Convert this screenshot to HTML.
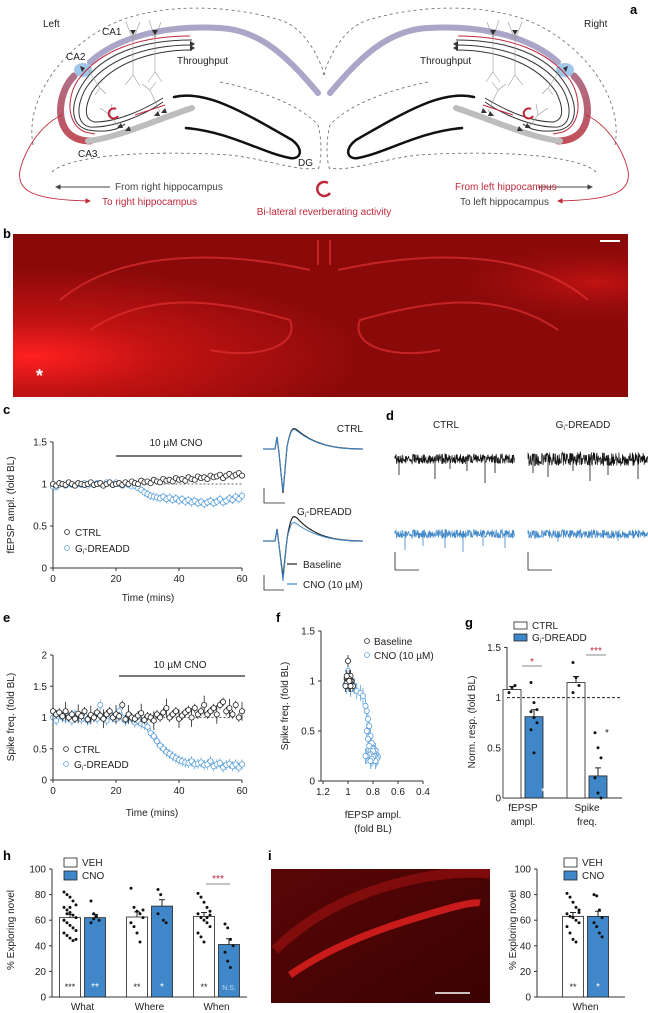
<!DOCTYPE html>
<html><head><meta charset="utf-8"><style>
html,body{margin:0;padding:0;background:#fff}
svg{display:block;font-family:"Liberation Sans",sans-serif}
</style></head><body>
<svg id="fig" width="648" height="1013" viewBox="0 0 648 1013" xmlns="http://www.w3.org/2000/svg">
<defs>
<linearGradient id="ca3g" x1="0" y1="0" x2="0" y2="1"><stop offset="0" stop-color="#b07088"/><stop offset="1" stop-color="#c0505a"/></linearGradient>
<radialGradient id="brain" cx="0.03" cy="0.75" r="0.55"><stop offset="0" stop-color="#ff2020"/><stop offset="0.4" stop-color="#c01212"/><stop offset="1" stop-color="#8a0a0a"/></radialGradient>
<radialGradient id="brainR" cx="0.95" cy="0.3" r="0.25"><stop offset="0" stop-color="#d01515" stop-opacity="0.8"/><stop offset="1" stop-color="#a00c0c" stop-opacity="0"/></radialGradient>
<linearGradient id="ig" x1="0" y1="0" x2="1" y2="1"><stop offset="0" stop-color="#5a0606"/><stop offset="1" stop-color="#3a0202"/></linearGradient>
<clipPath id="iclip"><rect x="271" y="869" width="219" height="134"/></clipPath>
<marker id="arG" markerWidth="6" markerHeight="6" refX="5" refY="3" orient="auto"><path d="M0,0 L6,3 L0,6z" fill="#444"/></marker>
<marker id="arR" markerWidth="6" markerHeight="6" refX="5" refY="3" orient="auto"><path d="M0,0 L6,3 L0,6z" fill="#c0283a"/></marker>
</defs>

<!-- Panel a -->
<g>
<text x="630" y="14" font-size="13" font-weight="bold">a</text>
<g id="hipL">
<path d="M33,145 C25,100 60,50 110,25 C150,5 220,2 280,20 C305,28 318,55 326,78" fill="none" stroke="#666" stroke-dasharray="3,3" stroke-width="0.8"/>
<path d="M220,82 C260,90 300,105 318,125 C322,140 322,160 318,170" fill="none" stroke="#666" stroke-dasharray="3,3" stroke-width="0.8"/>
<path d="M52,172 C70,155 150,150 230,155 C270,160 300,172 318,168" fill="none" stroke="#666" stroke-dasharray="3,3" stroke-width="0.8"/>
<path d="M90,62 C120,35 170,25 220,28 C262,30 290,60 318,93" fill="none" stroke="#a9a6c8" stroke-width="6" stroke-linecap="round"/>
<path d="M74,76 C58,92 55,125 72,136 C78,140 84,141 90,141" fill="none" stroke="url(#ca3g)" stroke-width="7" stroke-linecap="round"/>
<ellipse cx="83" cy="70" rx="9" ry="7" fill="#9fc6e8"/>
<path d="M88,141 C120,137 150,122 192,108" fill="none" stroke="#bdbdbd" stroke-width="6" stroke-linecap="round"/>
<path d="M174,97 C205,90 240,110 292,140 C305,150 300,160 290,158 C260,152 230,132 186,128" fill="none" stroke="#111" stroke-width="2.5" stroke-linecap="round"/>
<path d="M192,40 C140,40 100,55 82,85 C70,105 70,125 88,130 C105,133 118,130 125,124" fill="none" stroke="#333" stroke-width="1"/>
<path d="M192,45 C145,45 105,60 86,88 C76,106 76,124 90,127 C110,128 140,118 163,102" fill="none" stroke="#333" stroke-width="1"/>
<path d="M192,50 C148,50 110,65 92,92 C84,108 84,120 95,122 C115,122 140,112 163,98" fill="none" stroke="#333" stroke-width="1"/>
<path d="M190,36 C140,36 100,50 78,80 C65,100 68,125 85,132 L95,134" fill="none" stroke="#c0283a" stroke-width="1"/>
<path d="M135,115 L165,105" stroke="#c0283a" stroke-width="1"/>
<path d="M62,115 C40,125 25,150 20,170 C17,190 30,200 90,201" fill="none" stroke="#c0283a" stroke-width="0.9" marker-end="url(#arR)"/>
<line x1="110" y1="187" x2="56" y2="187" stroke="#444" stroke-width="0.9" marker-end="url(#arG)"/>
<g stroke="#999" stroke-width="0.6" fill="none">
<path d="M133,30 L133,75 M133,75 L125,85 M133,75 L140,86 M133,40 L126,22 M133,40 L140,22"/>
<path d="M155,30 L155,72 M155,72 L148,82 M155,72 L162,82 M155,38 L149,20 M155,38 L161,22"/>
<path d="M88,70 L100,88 M100,88 L95,95 M100,88 L106,94"/>
<path d="M120,128 L110,115 M110,115 L100,108 M110,115 L112,104"/>
<path d="M160,112 L150,90 M150,90 L142,84 M150,90 L156,82"/>
</g>
<g fill="#333"><path d="M130,30 l3,5 l3,-5z"/><path d="M152,30 l3,5 l3,-5z"/><path d="M80,66 l5,2 l-3,4z"/><path d="M117,128 l4,-5 l2,5z"/><path d="M125,131 l4,-5 l2,5z"/><path d="M154,116 l4,-5 l2,5z"/><path d="M161,113 l4,-5 l2,5z"/></g>
<path d="M195,44 l-5,-3 v6z M195,48 l-5,-3 v6z" fill="#333"/>
</g>
<use href="#hipL" transform="translate(648,0) scale(-1,1)"/>
<path d="M328,183 A7,7 0 1 0 330,193" fill="none" stroke="#c0283a" stroke-width="2.5"/>
<path d="M116,109 A5,5 0 1 0 118,116" fill="none" stroke="#c0283a" stroke-width="2"/>
<path d="M531,109 A5,5 0 1 0 533,116" fill="none" stroke="#c0283a" stroke-width="2"/>
<g font-size="10" fill="#222">
<text x="43" y="27">Left</text>
<text x="584" y="27">Right</text>
<text x="102" y="35">CA1</text>
<text x="66" y="60">CA2</text>
<text x="78" y="157">CA3</text>
<text x="298" y="166">DG</text>
<text x="177" y="64">Throughput</text>
<text x="420" y="64">Throughput</text>
<text x="115" y="190" fill="#444">From right hippocampus</text>
<text x="102" y="205" fill="#c0283a">To right hippocampus</text>
<text x="324" y="215" fill="#c0283a" text-anchor="middle">Bi-lateral reverberating activity</text>
<text x="455" y="190" fill="#c0283a">From left hippocampus</text>
<text x="460" y="205" fill="#444">To left hippocampus</text>
</g>
</g>

<!-- Panel b -->
<g>
<text x="3" y="238" font-size="13" font-weight="bold">b</text>
<rect x="13" y="234" width="615" height="163" fill="url(#brain)"/>
<rect x="13" y="234" width="615" height="163" fill="url(#brainR)"/>
<g fill="none" stroke="#e03030" stroke-width="2" opacity="0.7">
<path d="M60,300 C120,250 220,250 310,270"/><path d="M90,330 C150,290 220,300 290,320 C300,345 260,360 210,350"/>
<path d="M588,300 C530,250 430,250 338,270"/><path d="M558,330 C500,290 430,300 360,320 C350,345 390,360 440,350"/>
<path d="M318,240 L318,265 M330,240 L330,265"/>
</g>
<line x1="600" y1="241" x2="620" y2="241" stroke="#fff" stroke-width="2"/>
<text x="36" y="382" font-size="18" fill="#fff" font-weight="bold">*</text>
</g>

<g id="charts"></g>

<!-- panel i image -->
<g>
<rect x="271" y="869" width="219" height="134" fill="url(#ig)"/>
<g clip-path="url(#iclip)">
<path d="M275,950 C320,905 380,885 430,876 C460,872 480,872 490,874" fill="none" stroke="#a01010" stroke-width="10" opacity="0.6"/>
<path d="M290,975 C340,940 400,922 450,908 C465,904 475,902 480,903" fill="none" stroke="#e02020" stroke-width="7" opacity="0.85"/>
</g>
<line x1="435" y1="993" x2="470" y2="993" stroke="#fff" stroke-width="1.5"/>
</g>
</svg>
<script>
// ---------- data ----------
var minutesC = [];
for (var m = 0; m <= 60; m++) minutesC.push(m);
var ctrlC = [1,0.98,1.01,1,0.99,1.02,1,0.98,1.01,1,0.99,1,1.02,0.99,1,1.01,0.98,1,1.02,0.99,1,1.01,0.99,1.02,1,1.03,1.01,1,1.04,1.02,1.03,1.01,1.05,1.03,1.02,1.06,1.04,1.05,1.03,1.07,1.05,1.06,1.04,1.08,1.06,1.05,1.09,1.07,1.08,1.06,1.1,1.08,1.09,1.11,1.07,1.1,1.12,1.09,1.11,1.13,1.1];
var giC = [0.97,0.96,0.99,1,0.98,1.01,0.99,0.98,1,0.99,1.01,0.98,1,0.99,1.01,1,0.98,1.02,1.01,0.99,1.02,1,0.98,1.01,0.99,0.97,0.98,0.95,0.93,0.9,0.88,0.86,0.85,0.84,0.83,0.85,0.82,0.84,0.81,0.83,0.8,0.82,0.79,0.81,0.78,0.8,0.77,0.79,0.76,0.78,0.8,0.77,0.79,0.82,0.78,0.8,0.83,0.81,0.85,0.82,0.86];
var ctrlE = [1.1,1.05,1.08,1.02,1.1,1.0,1.05,0.98,1.06,1.02,1.1,0.97,1.04,1.0,1.08,1.03,0.98,1.05,1.1,1.0,1.05,1.02,1.2,0.97,1.05,1.0,0.98,1.03,1.07,0.96,1.02,1.0,0.95,1.05,1.0,1.08,1.15,1.0,1.05,1.1,0.98,1.03,1.08,1.12,1.0,1.15,1.05,1.1,1.2,1.05,1.1,1.15,1.05,1.2,1.25,1.1,1.15,1.05,1.2,1.0,1.1];
var giE = [1.0,0.95,1.05,1.0,0.98,1.02,0.95,1.05,1.0,0.97,1.03,0.95,1.0,1.02,0.98,1.2,1.0,0.95,1.05,1.0,0.97,1.1,1.0,0.95,1.05,0.98,0.92,0.95,0.9,0.88,0.85,0.75,0.7,0.62,0.55,0.5,0.45,0.42,0.38,0.35,0.32,0.3,0.28,0.27,0.3,0.25,0.26,0.28,0.24,0.25,0.3,0.22,0.25,0.27,0.2,0.24,0.26,0.22,0.25,0.2,0.25];
var ticksC = [0,0.5,1,1.5];
var ticksE = [0,0.5,1,1.5,2];
var ticksT = [0,20,40,60];
var ticksFx = [1.2,1,0.8,0.6,0.4];
var ticksF = [0,0.5,1,1.5];
var gGroups = ["fEPSP ampl.","Spike freq."];
var gCtrlMean = [1.08,1.15];
var gGiMean = [0.81,0.22];
var gCtrlErr = [0.03,0.06];
var gGiErr = [0.07,0.08];
var gCtrlDots = [[1.05,1.1,1.12],[1.35,1.2,1.12,1.05]];
var gGiDots = [[1.15,0.95,0.88,0.86,0.8,0.75,0.68,0.45],[0.65,0.5,0.4,0.2,0.05,0.0]];
var hCats = ["What","Where","When"];
var hVeh = [62,62.5,63];
var hCno = [62,71,41];
var hVehErr = [2.5,4,3];
var hCnoErr = [2.5,5,4.5];
var hVehDots = [[82,80,78,75,72,70,68,66,64,62,60,58,56,54,52,50,48,46,44,45,60,65,70],[85,70,67,65,62,58,55,50,43,68],[81,78,74,70,67,65,62,60,58,55,50,47,43,62,64]];
var hCnoDots = [[75,65,63,60,58,61],[84,80,60,58,65],[57,54,45,40,35,28,23]];
var hVehStars = ["***","**","**"];
var hCnoStars = ["**","*","N.S."];
var iVeh = [63];
var iCno = [63];
var iVehDots = [81,78,74,70,68,65,63,62,60,58,55,50,45,43,66];
var iCnoDots = [80,79,68,62,58,55,50,47];
var ticksH = [0,20,40,60,80,100];

// ---------- helpers ----------
var NS = "http://www.w3.org/2000/svg";
var root = document.getElementById('charts');
function mk(tag, attrs, parent) {
  var e = document.createElementNS(NS, tag);
  for (var k in attrs) e.setAttribute(k, attrs[k]);
  (parent || root).appendChild(e);
  return e;
}
function txt(x, y, s, attrs, parent) {
  var e = mk('text', Object.assign({x: x, y: y, 'font-size': 10, fill: '#222'}, attrs || {}), parent);
  e.textContent = s;
  return e;
}
var BLUE = '#3f87c8', LBLUE = '#5ea2dc';

function xC(t) { return 53 + t * (242 - 53) / 60; }
function yC(v) { return 568 - v * 84; }
function yE(v) { return 780 - v * 62.5; }
function xF(v) { return 348 + (1 - v) * 125; }
function yF(v) { return 781 - v * 100; }
function yG(v) { return 798 - v * 100.4; }
function yH(v) { return 997 - v * 1.28; }

function yAxis(x, y0, y1, ticks, scale, fmt) {
  var g = mk('g', {});
  
  
  mk('line', {x1: x, y1: y0, x2: x, y2: y1, stroke: '#333', 'stroke-width': 1}, g);
  ticks.forEach(function (t) {
    var y = scale(t);
    mk('line', {x1: x - 3, y1: y, x2: x, y2: y, stroke: '#333'}, g);
    var l = txt(x - 6, y + 3.5, fmt ? fmt(t) : String(t), {'text-anchor': 'end'}, g);
    
    
  });
}
function xAxisT(y, x0, x1, ticks, scale) {
  var g = mk('g', {});
  
  
  mk('line', {x1: x0, y1: y, x2: x1, y2: y, stroke: '#333'}, g);
  ticks.forEach(function (t) {
    var x = scale(t);
    mk('line', {x1: x, y1: y, x2: x, y2: y + 3, stroke: '#333'}, g);
    var l = txt(x, y + 14, String(t), {'text-anchor': 'middle'}, g);
    
    
  });
}
function vtitle(x, y, s) {
  var e = txt(x, y, s, {'text-anchor': 'middle', transform: 'rotate(-90 ' + x + ' ' + y + ')'});
  
  
}
function label(x, y, s) {
  var e = txt(x, y, s, {'font-size': 13, 'font-weight': 'bold', fill: '#000'});
  
  
}
function gi(x, y, anchor) {
  var e = txt(x, y, 'G', {'text-anchor': anchor || 'start'});
  var s = mk('tspan', {'font-size': 6, dy: 2}, e); s.textContent = 'i';
  var s2 = mk('tspan', {dy: -2}, e); s2.textContent = '-DREADD';
  return e;
}
function scatter(xs, ys, xf, yf, color, err, name) {
  var g = mk('g', {});
  
  
  for (var i = 0; i < xs.length; i++) {
    var e = err(i);
    if (e > 0) mk('line', {x1: xf(xs[i]), y1: yf(ys[i] - e), x2: xf(xs[i]), y2: yf(ys[i] + e), stroke: color, 'stroke-width': 0.8}, g);
  }
  for (var j = 0; j < xs.length; j++) {
    var c = mk('circle', {cx: xf(xs[j]), cy: yf(ys[j]), r: 2.6, fill: '#fff', stroke: color, 'stroke-width': 0.8}, g);
    
    
  }
}

// ---------- panel c ----------
label(3, 414, 'c');
yAxis(53, 442, 568, ticksC, yC);
xAxisT(568, 53, 242, ticksT, xC);
vtitle(14, 505, 'fEPSP ampl. (fold BL)');
var tt = txt(148, 601, 'Time (mins)', {'text-anchor': 'middle'});


var cb = mk('line', {x1: xC(20), y1: 456, x2: xC(60), y2: 456, stroke: '#777', 'stroke-width': 2});


txt(176, 446, '10 µM CNO', {'text-anchor': 'middle'});
mk('line', {x1: xC(30), y1: yC(1), x2: xC(60), y2: yC(1), stroke: '#333', 'stroke-dasharray': '2,2', 'stroke-width': 0.8});
scatter(minutesC, giC, xC, yC, LBLUE, function (i) { return i > 28 ? 0.05 : 0.015; }, 'gi-dreadd-series-c');
scatter(minutesC, ctrlC, xC, yC, '#222', function (i) { return 0.015; }, 'ctrl-series-c');
mk('circle', {cx: 67, cy: 532, r: 2.4, fill: 'none', stroke: '#222', 'stroke-width': 0.8});
txt(75, 536, 'CTRL');
mk('circle', {cx: 67, cy: 548, r: 2.4, fill: 'none', stroke: LBLUE, 'stroke-width': 0.8});
gi(75, 552);

function epsp(x0, y0, w, depth, up, color, sw) {
  var p = 'M' + x0 + ',' + y0 + ' L' + (x0 + 12) + ',' + y0 + ' L' + (x0 + 14) + ',' + (y0 - 12) + ' L' + (x0 + 16) + ',' + (y0 + 4) +
    ' L' + (x0 + 20) + ',' + (y0 + depth) + ' L' + (x0 + 24) + ',' + (y0 - 2) +
    ' C' + (x0 + 28) + ',' + (y0 - up) + ' ' + (x0 + 30) + ',' + (y0 - up) + ' ' + (x0 + 34) + ',' + (y0 - up + 3) +
    ' C' + (x0 + 50) + ',' + (y0 - 5) + ' ' + (x0 + 70) + ',' + (y0) + ' ' + (x0 + w) + ',' + y0;
  return mk('path', {d: p, fill: 'none', stroke: color, 'stroke-width': sw || 1});
}
var t1 = epsp(263, 449, 100, 44, 22, '#222', 1.2);


var t2 = epsp(263, 449, 100, 42, 21, BLUE, 1);


var t3 = epsp(263, 541, 100, 36, 26, '#222', 1.2);


var t4 = epsp(263, 541, 100, 40, 20, BLUE, 1);


txt(363, 432, 'CTRL', {'text-anchor': 'end'});
gi(297, 515);
mk('path', {d: 'M264,488 V503 H285', fill: 'none', stroke: '#222', 'stroke-width': 0.8});
mk('path', {d: 'M264,575 V590 H284', fill: 'none', stroke: '#222', 'stroke-width': 0.8});
mk('line', {x1: 287, y1: 564, x2: 297, y2: 564, stroke: '#222', 'stroke-width': 1.2});
txt(303, 568, 'Baseline');
mk('line', {x1: 287, y1: 584, x2: 297, y2: 584, stroke: BLUE, 'stroke-width': 1.2});
txt(303, 588, 'CNO (10 µM)');

// ---------- panel d ----------
label(386, 420, 'd');
txt(446, 428, 'CTRL', {'text-anchor': 'middle'});
gi(583, 428, 'middle');
function noiseTrace(x0, x1, yc, amp, color, spikes, name) {
  var d = 'M' + x0 + ',' + yc;
  for (var x = x0; x <= x1; x += 0.35) {
    var n = Math.sin(x * 12.9898) * 43758.5453; n = n - Math.floor(n);
    d += ' L' + x.toFixed(2) + ',' + (yc + (n - 0.5) * amp * 2).toFixed(1);
  }
  var p = mk('path', {d: d, fill: 'none', stroke: color, 'stroke-width': 0.7});
  
  
  spikes.forEach(function (s) {
    mk('line', {x1: x0 + s[0], y1: yc - 3, x2: x0 + s[0], y2: yc + s[1], stroke: color, 'stroke-width': 0.8});
  });
}
noiseTrace(395, 515, 459, 5, '#111', [[4, 16], [40, 20], [55, 10], [72, 12], [90, 24], [100, 14]], 'ctrl-spike-trace-baseline');
noiseTrace(528, 648, 459, 7, '#111', [[5, 14], [20, 18], [45, 12], [62, 22], [80, 16], [110, 20]], 'gi-spike-trace-baseline');
noiseTrace(395, 515, 534, 4.5, BLUE, [[10, 16], [28, 12], [50, 14], [68, 18], [88, 12], [110, 14]], 'ctrl-spike-trace-cno');
noiseTrace(528, 648, 534, 4.5, BLUE, [[30, 8], [90, 7]], 'gi-spike-trace-cno');
mk('path', {d: 'M395,552 V570 H419', fill: 'none', stroke: '#222', 'stroke-width': 0.8});
mk('path', {d: 'M528,552 V570 H552', fill: 'none', stroke: '#222', 'stroke-width': 0.8});

// ---------- panel e ----------
label(3, 622, 'e');
yAxis(53, 655, 780, ticksE, yE);
xAxisT(780, 53, 242, ticksT, xC);
vtitle(14, 717, 'Spike freq. (fold BL)');
var te = txt(152, 816, 'Time (mins)', {'text-anchor': 'middle'});


mk('line', {x1: 119, y1: 676, x2: 245, y2: 676, stroke: '#777', 'stroke-width': 2});
txt(180, 668, '10 µM CNO', {'text-anchor': 'middle'});
mk('line', {x1: xC(30), y1: yE(1), x2: xC(60), y2: yE(1), stroke: '#333', 'stroke-dasharray': '2,2', 'stroke-width': 0.8});
scatter(minutesC, giE, xC, yE, LBLUE, function (i) { return 0.08; }, 'gi-dreadd-series-e');
scatter(minutesC, ctrlE, xC, yE, '#222', function (i) { return i % 4 === 0 ? 0.15 : 0.07; }, 'ctrl-series-e');
mk('circle', {cx: 66, cy: 749, r: 2.4, fill: 'none', stroke: '#222', 'stroke-width': 0.8});
txt(74, 753, 'CTRL');
mk('circle', {cx: 66, cy: 764, r: 2.4, fill: 'none', stroke: LBLUE, 'stroke-width': 0.8});
gi(74, 768);

// ---------- panel f ----------
label(276, 622, 'f');
yAxis(321, 631, 781, ticksF, yF);
xAxisT(781, 321, 423, ticksFx, xF);
vtitle(288, 706, 'Spike freq. (fold BL)');
txt(373, 818, 'fEPSP ampl.', {'text-anchor': 'middle'});
txt(373, 832, '(fold BL)', {'text-anchor': 'middle'});
var fBaseX = giC.slice(0, 20), fBaseY = giE.slice(0, 20);
var fCnoX = giC.slice(20), fCnoY = giE.slice(20);
scatter(fCnoX, fCnoY, xF, yF, LBLUE, function () { return 0.08; }, 'cno-series-f');
scatter(fBaseX, fBaseY, xF, yF, '#222', function () { return 0.06; }, 'baseline-series-f');
mk('circle', {cx: 367, cy: 641, r: 2.4, fill: 'none', stroke: '#222', 'stroke-width': 0.8});
txt(374, 645, 'Baseline');
mk('circle', {cx: 367, cy: 655, r: 2.4, fill: 'none', stroke: LBLUE, 'stroke-width': 0.8});
txt(374, 659, 'CNO (10 µM)');

// ---------- panel g ----------
label(465, 627, 'g');
yAxis(507, 647, 798, [0, 0.5, 1, 1.5], yG);
mk('line', {x1: 507, y1: 798, x2: 622, y2: 798, stroke: '#333'});
vtitle(475, 722, 'Norm. resp. (fold BL)');
mk('rect', {x: 514, y: 622, width: 13, height: 7, fill: '#fff', stroke: '#222', 'stroke-width': 0.8});
txt(532, 629, 'CTRL');
mk('rect', {x: 514, y: 634, width: 13, height: 7, fill: BLUE, stroke: '#222', 'stroke-width': 0.8});
gi(532, 641);
var gx = [521, 585];
gGroups.forEach(function (name, k) {
  var xc = gx[k] - 9, xg = gx[k] + 13;
  var b1 = mk('rect', {x: xc - 9, y: yG(gCtrlMean[k]), width: 18, height: 798 - yG(gCtrlMean[k]), fill: '#fff', stroke: '#222', 'stroke-width': 0.8});
  
  
  var b2 = mk('rect', {x: xg - 9, y: yG(gGiMean[k]), width: 18, height: 798 - yG(gGiMean[k]), fill: BLUE, stroke: '#222', 'stroke-width': 0.8});
  
  
  mk('line', {x1: xc, y1: yG(gCtrlMean[k]), x2: xc, y2: yG(gCtrlMean[k] + gCtrlErr[k]), stroke: '#222'});
  mk('line', {x1: xc - 3, y1: yG(gCtrlMean[k] + gCtrlErr[k]), x2: xc + 3, y2: yG(gCtrlMean[k] + gCtrlErr[k]), stroke: '#222'});
  mk('line', {x1: xg, y1: yG(gGiMean[k]), x2: xg, y2: yG(gGiMean[k] + gGiErr[k]), stroke: '#222'});
  mk('line', {x1: xg - 3, y1: yG(gGiMean[k] + gGiErr[k]), x2: xg + 3, y2: yG(gGiMean[k] + gGiErr[k]), stroke: '#222'});
  gCtrlDots[k].forEach(function (v, i) { mk('circle', {cx: xc - 3 + (i % 3) * 3, cy: yG(v), r: 1.5, fill: '#111'}); });
  gGiDots[k].forEach(function (v, i) { mk('circle', {cx: xg - 3 + (i % 3) * 3, cy: yG(v), r: 1.5, fill: '#111'}); });
  var parts = name.split(' ');
  txt(gx[k] + 2, 811, parts[0], {'text-anchor': 'middle'});
  txt(gx[k] + 2, 825, parts[1], {'text-anchor': 'middle'});
});
mk('line', {x1: 507, y1: yG(1), x2: 622, y2: yG(1), stroke: '#222', 'stroke-dasharray': '3,2'});
mk('line', {x1: 522, y1: 666, x2: 542, y2: 666, stroke: '#888'});
txt(532, 665, '*', {'text-anchor': 'middle', fill: '#c0283a'});
mk('line', {x1: 586, y1: 655, x2: 606, y2: 655, stroke: '#888'});
txt(596, 654, '***', {'text-anchor': 'middle', fill: '#c0283a'});
txt(543, 795, '*', {'text-anchor': 'middle', fill: '#fff'});
txt(607, 736, '*', {'text-anchor': 'middle'});

// ---------- panels h / i ----------
function barPanel(xAxisStart, xAxisEnd, cats, veh, cno, vehErr, cnoErr, vehDots, cnoDots, vehStars, cnoStars, xs, prefix) {
  yAxis(xAxisStart, 869, 997, ticksH, yH);
  mk('line', {x1: xAxisStart, y1: 997, x2: xAxisEnd, y2: 997, stroke: '#333'});
  cats.forEach(function (c, k) {
    var xv = xs[k], xn = xs[k] + 25;
    var bv = mk('rect', {x: xv - 10.5, y: yH(veh[k]), width: 21, height: 997 - yH(veh[k]), fill: '#fff', stroke: '#222', 'stroke-width': 0.8});
    
    
    var bn = mk('rect', {x: xn - 10.5, y: yH(cno[k]), width: 21, height: 997 - yH(cno[k]), fill: BLUE, stroke: '#222', 'stroke-width': 0.8});
    
    
    [[xv, veh[k], vehErr[k]], [xn, cno[k], cnoErr[k]]].forEach(function (a) {
      mk('line', {x1: a[0], y1: yH(a[1]), x2: a[0], y2: yH(a[1] + a[2]), stroke: '#222'});
      mk('line', {x1: a[0] - 3, y1: yH(a[1] + a[2]), x2: a[0] + 3, y2: yH(a[1] + a[2]), stroke: '#222'});
    });
    vehDots[k].forEach(function (v, i) { mk('circle', {cx: xv - 6 + (i % 5) * 3, cy: yH(v), r: 1.5, fill: '#111'}); });
    cnoDots[k].forEach(function (v, i) { mk('circle', {cx: xn - 4 + (i % 4) * 2.7, cy: yH(v), r: 1.5, fill: '#111'}); });
    txt(xv, 990, vehStars[k], {'text-anchor': 'middle', 'font-size': vehStars[k].length > 1 ? 9 : 10});
    txt(xn, 990, cnoStars[k], {'text-anchor': 'middle', fill: cnoStars[k] === 'N.S.' ? '#bcd6ee' : '#fff', 'font-size': cnoStars[k] === 'N.S.' ? 7 : 10});
    var cl = txt((xv + xn) / 2, 1010, c, {'text-anchor': 'middle'});
    
    
  });
}
label(3, 860, 'h');
barPanel(52, 247, hCats, hVeh, hCno, hVehErr, hCnoErr, hVehDots, hCnoDots, hVehStars, hCnoStars, [70, 137, 204], 'h');
vtitle(14, 930, '% Exploring novel');
mk('rect', {x: 64, y: 858, width: 13, height: 9, fill: '#fff', stroke: '#222', 'stroke-width': 0.8});
txt(82, 866, 'VEH');
mk('rect', {x: 64, y: 871, width: 13, height: 9, fill: BLUE, stroke: '#222', 'stroke-width': 0.8});
txt(82, 879, 'CNO');
mk('line', {x1: 206, y1: 884, x2: 230, y2: 884, stroke: '#888'});
txt(218, 882, '***', {'text-anchor': 'middle', fill: '#c0283a'});

label(268, 860, 'i');
barPanel(537, 625, ['When'], iVeh, iCno, [3], [4], [iVehDots], [iCnoDots], ['**'], ['*'], [573], 'i');
vtitle(516, 930, '% Exploring  novel');
mk('rect', {x: 564, y: 858, width: 13, height: 9, fill: '#fff', stroke: '#222', 'stroke-width': 0.8});
txt(582, 866, 'VEH');
mk('rect', {x: 564, y: 871, width: 13, height: 9, fill: BLUE, stroke: '#222', 'stroke-width': 0.8});
txt(582, 879, 'CNO');
</script>
</body></html>
